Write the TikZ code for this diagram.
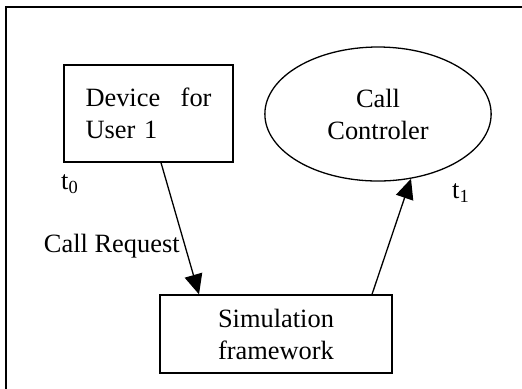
\documentclass[tikz,border=0pt]{standalone}
\usepackage{fontspec}
\setmainfont{Liberation Serif}
\usetikzlibrary{shapes.geometric,arrows.meta}
\tikzset{
  unitbox/.style = {draw, line width=0.65pt, rectangle},
  ctrlnode/.style = {draw, line width=0.65pt, ellipse, inner sep=0pt,
    minimum width=103pt, minimum height=67pt, text width=80pt, align=center},
  msg/.style = {line width=0.65pt, -{Triangle[length=10pt,width=9pt]}}
}
\begin{document}
\begin{tikzpicture}[x=0.5pt, y=-0.5pt, font=\fontsize{13.2}{16}\selectfont]
\useasboundingbox (0,0) rectangle (522,388);
\clip (0,0) rectangle (522,388);
\draw[line width=1pt] (6,7) rectangle (540,400);
\node[unitbox, minimum width=84.5pt, minimum height=48.5pt, inner xsep=10.5pt,
  text width=63pt, align=left] (dev) at (148.5,113.5)
  {Device \hfill for\\User 1\par\vspace{6pt}};
\node[ctrlnode] (cc) at (378,114) {Call\\Controler\par\vspace{5pt}};
\node[unitbox, minimum width=116pt, minimum height=39pt, align=center]
  (sim) at (276,334) {Simulation\\framework};
\draw[msg] ([xshift=6.25pt]dev.south) -- ([xshift=-38.5pt]sim.north);
\draw[msg] ([xshift=48pt]sim.north) -- (cc.-63);
\node (t0) at (70,184) {t\textsubscript{0}};
\node (t1) at (461,193) {t\textsubscript{1}};
\node[anchor=east, inner sep=0pt] (req) at (180,246) {Call Request};
\end{tikzpicture}
\end{document}
